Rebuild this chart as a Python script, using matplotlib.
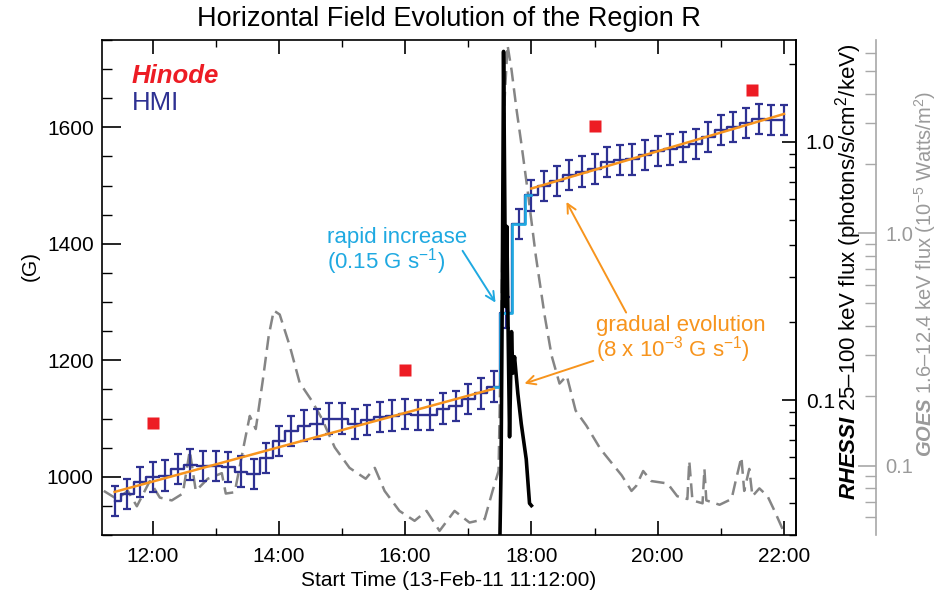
import matplotlib
matplotlib.use("Agg")
import numpy as np
import matplotlib.pyplot as plt
from matplotlib.ticker import MultipleLocator, FuncFormatter, LogLocator, NullFormatter

plt.rcParams['font.family'] = ['Liberation Sans', 'DejaVu Sans']
plt.rcParams['mathtext.fontset'] = 'custom'
plt.rcParams['mathtext.rm'] = 'Liberation Sans'
plt.rcParams['mathtext.it'] = 'Liberation Sans:italic'
plt.rcParams['mathtext.bf'] = 'Liberation Sans:bold'
plt.rcParams['mathtext.bfit'] = 'Liberation Sans:italic:bold'
plt.rcParams['lines.scale_dashes'] = False

# --- HMI horizontal field, 12 min cadence ---
hmi_times = ["11:24", "11:36", "11:48",
             "12:00", "12:12", "12:24", "12:36", "12:48",
             "13:00", "13:12", "13:24", "13:36", "13:48",
             "14:00", "14:12", "14:24", "14:36", "14:48",
             "15:00", "15:12", "15:24", "15:36", "15:48",
             "16:00", "16:12", "16:24", "16:36", "16:48",
             "17:00", "17:12", "17:24", "17:36", "17:48",
             "18:00", "18:12", "18:24", "18:36", "18:48",
             "19:00", "19:12", "19:24", "19:36", "19:48",
             "20:00", "20:12", "20:24", "20:36", "20:48",
             "21:00", "21:12", "21:24", "21:36", "21:48",
             "22:00"]
hmi_field = [959, 970, 991,
             1000, 1002, 1013, 1021, 1019,
             1019, 1017, 1009, 1005, 1032,
             1062, 1079, 1088, 1091, 1100,
             1100, 1091, 1098, 1103, 1105,
             1108, 1106, 1106, 1117, 1122,
             1133, 1143, 1155, 1282, 1434,
             1483, 1499, 1508, 1518, 1524,
             1528, 1541, 1544, 1545, 1552,
             1560, 1562, 1566, 1571, 1583,
             1596, 1601, 1607, 1614, 1613,
             1613]
hmi_err = 26

# rapid increase part (drawn in light blue)
rapid_start, rapid_end = "17:24", "18:00"

# --- Hinode points ---
hinode_times = ["12:00", "16:00", "19:00", "21:30"]
hinode_field = [1093, 1184, 1603, 1664]

# --- linear fits (gradual evolution) ---
fit_early_times = ["11:24", "17:24"]
fit_early_field = [974, 1151]
fit_late_times = ["18:00", "22:00"]
fit_late_field = [1495, 1623]

# --- RHESSI 25-100 keV (hours, flux) ---
rhessi_hours = [17.49, 17.519, 17.538, 17.551, 17.559, 17.579, 17.590, 17.611,
                17.633, 17.654, 17.685, 17.706, 17.733, 17.785, 17.839, 17.918,
                17.970, 18.00]
rhessi_flux = [0.02, 0.0535, 0.244, 0.93, 2.24, 0.561, 0.230, 0.470,
               0.171, 0.072, 0.184, 0.127, 0.147, 0.106, 0.081, 0.059,
               0.0398, 0.039]

# --- GOES 1.6-12.4 keV (hours, 1e-5 W/m^2) ---
goes_hours = [11.229, 11.435, 11.609, 11.752, 11.957, 12.116, 12.305, 12.479,
              12.590, 12.685, 12.875, 13.097, 13.160, 13.302, 13.445, 13.54,
              13.635, 13.745, 13.84, 13.92, 14.014, 14.172, 14.33, 14.52,
              14.68, 14.886, 15.12, 15.376, 15.52, 15.675, 15.91, 16.15,
              16.34, 16.545, 16.783, 17.02, 17.26, 17.385, 17.48, 17.528,
              17.575, 17.622, 17.686, 17.766, 17.845, 17.94, 18.07, 18.21,
              18.32, 18.445, 18.56, 18.70, 18.87, 19.095, 19.27, 19.43,
              19.585, 19.66, 19.77, 19.90, 20.155, 20.31, 20.47, 20.50,
              20.55, 20.71, 20.74, 20.77, 20.98, 21.17, 21.23, 21.325,
              21.37, 21.45, 21.5, 21.61, 21.74, 21.85, 21.99]
goes_flux = [0.078, 0.072, 0.078, 0.067, 0.086, 0.073, 0.071, 0.076,
             0.116, 0.078, 0.088, 0.093, 0.076, 0.077, 0.122, 0.164,
             0.144, 0.232, 0.363, 0.466, 0.448, 0.329, 0.228, 0.191,
             0.160, 0.120, 0.098, 0.088, 0.098, 0.078, 0.064, 0.058,
             0.064, 0.0525, 0.064, 0.057, 0.059, 0.078, 0.095, 0.514,
             3.74, 6.46, 5.04, 3.39, 2.39, 1.53, 0.80, 0.443,
             0.298, 0.226, 0.244, 0.173, 0.149, 0.118, 0.103, 0.091,
             0.078, 0.082, 0.095, 0.086, 0.084, 0.074, 0.072, 0.105,
             0.071, 0.069, 0.097, 0.071, 0.068, 0.072, 0.085, 0.109,
             0.078, 0.097, 0.074, 0.080, 0.074, 0.064, 0.0525]

NAVY = '#2e3192'
CYAN = '#1fa9e1'
ORANGE = '#f7941d'
RED = '#ed1c24'
GOES_GRAY = '#858585'
AXIS_GRAY = '#a8a8a8'


def to_hours(labels):
    out = []
    for s in labels:
        h, m = s.split(":")
        out.append(int(h) + int(m) / 60.0)
    return np.array(out)


t_hmi = to_hours(hmi_times)
b_hmi = np.array(hmi_field, dtype=float)
r0, r1 = to_hours([rapid_start, rapid_end])
rapid = (t_hmi >= r0 - 1e-6) & (t_hmi <= r1 + 1e-6)

W, H = 938, 591
fig = plt.figure(figsize=(W / 100, H / 100), dpi=100)
L, R, T, B = 102, 796, 40, 535
ax = fig.add_axes([L / W, 1 - B / H, (R - L) / W, (B - T) / H])
ax_g = ax.twinx()
ax_r = ax.twinx()
ax_g.set_zorder(1)
ax.set_zorder(2)
ax_r.set_zorder(3)
ax.patch.set_visible(False)
ax_g.patch.set_visible(False)
ax_r.patch.set_visible(False)

# GOES (grey dashed)
ax_g.plot(goes_hours, goes_flux, color=GOES_GRAY, lw=1.8, dashes=(10, 5))
ax_g.set_yscale('log')
ax_g.set_ylim(0.0504, 6.8)
ax_g.spines['right'].set_position(('axes', 1 + 80 / (R - L)))
for s in ['left', 'top', 'bottom']:
    ax_g.spines[s].set_visible(False)
ax_g.spines['right'].set_color(AXIS_GRAY)
ax_g.spines['right'].set_linewidth(1.2)
ax_g.yaxis.set_major_locator(LogLocator(base=10))
ax_g.yaxis.set_minor_locator(LogLocator(base=10, subs=np.arange(2, 10)))
ax_g.yaxis.set_major_formatter(FuncFormatter(lambda v, p: f"{v:.1f}"))
ax_g.yaxis.set_minor_formatter(NullFormatter())
ax_g.tick_params(axis='y', which='both', direction='in', colors=AXIS_GRAY,
                 labelcolor='#9a9a9a', labelsize=14.5, pad=7)
ax_g.tick_params(axis='y', which='major', length=13, width=1.2)
ax_g.tick_params(axis='y', which='minor', length=8, width=1.0)

# HMI steps with error bars
ax.errorbar(t_hmi, b_hmi, yerr=hmi_err, color=NAVY, lw=1.7, elinewidth=1.6,
            capsize=2.6, capthick=1.6, drawstyle='steps-mid', zorder=2)
ax.plot(t_hmi[rapid], b_hmi[rapid], color=CYAN, lw=1.9,
        drawstyle='steps-mid', zorder=3)
ax.plot(to_hours(fit_early_times), fit_early_field, color=ORANGE, lw=1.8, zorder=4)
ax.plot(to_hours(fit_late_times), fit_late_field, color=ORANGE, lw=1.8, zorder=4)
ax.plot(to_hours(hinode_times), hinode_field, 's', color=RED, ms=9, mec='none',
        zorder=5)

ax.set_xlim(11.2, 22.19)
ax.set_ylim(900, 1750)
ax.xaxis.set_major_locator(MultipleLocator(2))
ax.xaxis.set_minor_locator(MultipleLocator(1))
ax.xaxis.set_major_formatter(FuncFormatter(lambda v, p: f"{int(round(v)):02d}:00"))
ax.yaxis.set_major_locator(MultipleLocator(200))
ax.yaxis.set_minor_locator(MultipleLocator(50))
ax.tick_params(axis='both', which='both', direction='in', top=True, right=False,
               labelsize=15)
ax.tick_params(axis='y', which='both', pad=6)
ax.tick_params(axis='x', which='both', pad=9)
ax.tick_params(axis='y', which='major', length=14, width=1.2)
ax.tick_params(axis='y', which='minor', length=7, width=1.0)
ax.tick_params(axis='x', which='major', length=10, width=1.2)
ax.tick_params(axis='x', which='minor', length=5, width=1.0)
for s in ax.spines.values():
    s.set_linewidth(1.2)
ax.set_xlabel("Start Time (13-Feb-11 11:12:00)", fontsize=15, labelpad=3)
ax.set_title("Horizontal Field Evolution of the Region R", fontsize=19.5, pad=10)

# RHESSI (black)
ax_r.plot(rhessi_hours, rhessi_flux, color='black', lw=2.6)
ax_r.set_yscale('log')
ax_r.set_ylim(0.0300, 2.48)
for s in ['left', 'top', 'bottom']:
    ax_r.spines[s].set_visible(False)
ax_r.spines['right'].set_linewidth(1.2)
ax_r.yaxis.set_major_locator(LogLocator(base=10))
ax_r.yaxis.set_minor_locator(LogLocator(base=10, subs=np.arange(2, 10)))
ax_r.yaxis.set_major_formatter(FuncFormatter(lambda v, p: f"{v:.1f}"))
ax_r.yaxis.set_minor_formatter(NullFormatter())
ax_r.tick_params(axis='y', which='both', direction='in', labelsize=15, pad=7)
ax_r.tick_params(axis='y', which='major', length=10, width=1.2)
ax_r.tick_params(axis='y', which='minor', length=5, width=1.0)

# legend-like labels
ax.text((132 - L) / (R - L), 1 - (83 - T) / (B - T), "Hinode", transform=ax.transAxes,
        color=RED, fontsize=18.5, fontweight='bold', fontstyle='italic', va='baseline')
ax.text((132 - L) / (R - L), 1 - (110 - T) / (B - T), "HMI", transform=ax.transAxes,
        color=NAVY, fontsize=18.5, va='baseline')

# annotations (va='baseline' anchors the last line)
ax.text(14.758, 1357, "rapid increase\n(0.15 G s$^{-1}$)", color=CYAN, fontsize=16,
        ha='left', va='baseline', linespacing=0.93, zorder=6)
ax.annotate("", xy=(17.432, 1299), xytext=(16.91, 1388),
            arrowprops=dict(arrowstyle='->', color=CYAN, lw=1.4, shrinkA=0, shrinkB=0,
                            mutation_scale=16), zorder=6)
ax.text(19.015, 1206, "gradual evolution\n(8 x 10$^{-3}$ G s$^{-1}$)", color=ORANGE,
        fontsize=16, ha='left', va='baseline', linespacing=0.93, zorder=6)
ax.annotate("", xy=(18.555, 1472), xytext=(19.50, 1282),
            arrowprops=dict(arrowstyle='->', color=ORANGE, lw=1.4, shrinkA=0, shrinkB=0,
                            mutation_scale=16), zorder=6)
ax.annotate("", xy=(17.89, 1160), xytext=(18.98, 1199),
            arrowprops=dict(arrowstyle='->', color=ORANGE, lw=1.4, shrinkA=0, shrinkB=0,
                            mutation_scale=16), zorder=6)

# axis labels placed by hand
fig.text(30 / W, 1 - 266 / H, "(G)", rotation=90, fontsize=15, ha='center', va='center')
fig.text(849 / W, 1 - 272 / H,
         r"$\mathbfit{RHESSI}$ 25–100 keV flux (photons/s/cm$^2$/keV)",
         rotation=90, fontsize=16, ha='center', va='center')
fig.text(925 / W, 1 - 274 / H,
         r"$\mathbfit{GOES}$ 1.6–12.4 keV flux (10$^{-5}$ Watts/m$^2$)",
         rotation=90, fontsize=14.5, ha='center', va='center', color='#9a9a9a')

fig.savefig("out.png", dpi=100)
